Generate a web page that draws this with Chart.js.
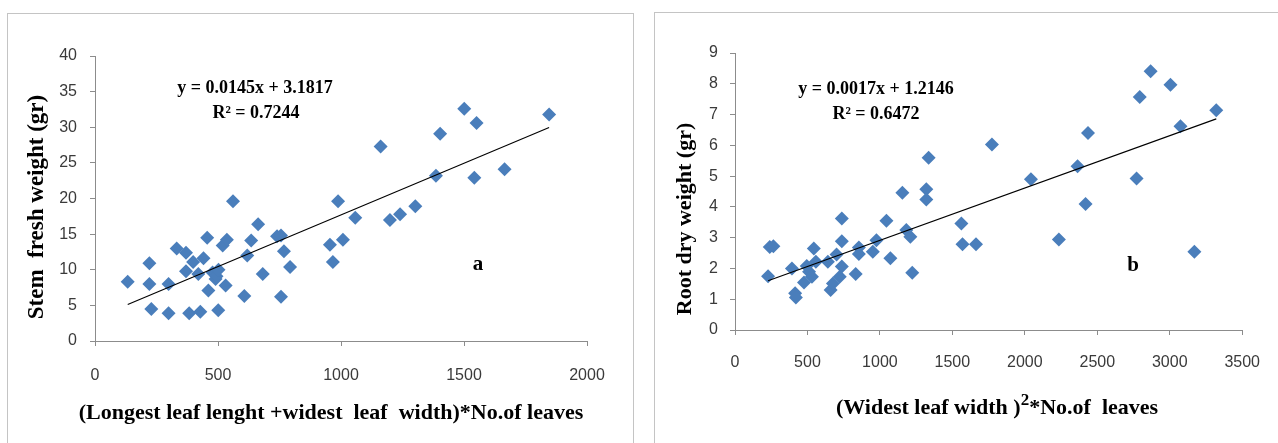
<!DOCTYPE html>
<html>
<head>
<meta charset="utf-8">
<script src="https://cdn.jsdelivr.net/npm/chart.js@4.4.0/dist/chart.umd.min.js"></script>
<style>
  html, body { margin: 0; padding: 0; background: #fff; width: 1278px; height: 443px; overflow: hidden; }
  .panel { position: absolute; border: 1.5px solid #c4c4c4; border-bottom: none; box-sizing: border-box; }
  canvas { position: absolute; top: 0; }
</style>
</head>
<body>
<div class="panel" style="left:7px; top:13px; width:627px; height:440px;"></div>
<div class="panel" style="left:654px; top:12px; width:640px; height:440px;"></div>
<canvas id="chart-a" width="645" height="443" style="left:0"></canvas>
<canvas id="chart-b" width="633" height="443" style="left:645px"></canvas>
<script>
/* panel a: stem fresh weight */
const stemX = [133, 221, 221, 229, 299, 299, 332, 370, 370, 383, 399, 420, 428, 441, 456, 461, 478, 490, 494, 502,
  501, 519, 536, 531, 561, 607, 619, 635, 663, 682, 740, 756, 756, 768, 793, 955, 967, 988, 1008, 1058,
  1161, 1199, 1240, 1302, 1386, 1403, 1501, 1542, 1551, 1665, 1846];
const stemY = [8.3, 10.9, 8.0, 4.5, 3.9, 8.0, 13.0, 12.4, 9.8, 3.9, 11.1, 9.4, 4.1, 11.6, 14.5, 7.1, 9.6, 8.7, 9.1, 10.0,
  4.3, 13.4, 14.2, 7.8, 19.6, 6.3, 12.0, 14.1, 16.4, 9.4, 14.7, 14.8, 6.2, 12.6, 10.4, 13.5, 11.1, 19.6, 14.2, 17.3,
  27.3, 17.0, 17.8, 18.9, 23.2, 29.1, 32.6, 22.9, 30.6, 24.1, 31.8];
const stemTrendX = [133, 1846];
const stemTrendY = [5.11, 29.95];
const stemXTicks = [0, 500, 1000, 1500, 2000];
const stemYTicks = [0, 5, 10, 15, 20, 25, 30, 35, 40];

/* panel b: root dry weight */
const rootX = [228, 240, 265, 393, 415, 420, 476, 495, 511, 531, 544, 558, 641, 660, 676, 701, 723, 737, 737, 737,
  833, 855, 855, 951, 976, 1045, 1072, 1155, 1182, 1210, 1223, 1320, 1320, 1336, 1562, 1570, 1663, 1773, 2042, 2235,
  2364, 2419, 2436, 2771, 2793, 2868, 3005, 3074, 3170, 3321];
const rootY = [1.75, 2.7, 2.72, 2.0, 1.19, 1.06, 1.54, 2.08, 1.89, 1.73, 2.65, 2.22, 2.22, 1.30, 1.51, 2.45, 1.73, 2.06, 2.88, 3.62,
  1.82, 2.68, 2.47, 2.54, 2.92, 3.55, 2.33, 4.46, 3.25, 3.03, 1.86, 4.57, 4.24, 5.6, 3.46, 2.79, 2.79, 6.03, 4.9, 2.94,
  5.32, 4.09, 6.4, 4.92, 7.57, 8.41, 7.97, 6.62, 2.54, 7.14];
const rootTrendX = [228, 3321];
const rootTrendY = [1.60, 6.86];
const rootXTicks = [0, 500, 1000, 1500, 2000, 2500, 3000, 3500];
const rootYTicks = [0, 1, 2, 3, 4, 5, 6, 7, 8, 9];

const MARKER = '#4a7ebb';
const AXIS = '#8c8c8c';
const SERIF = '"Liberation Serif", "Times New Roman", serif';
const SANS = '"Liberation Sans", Arial, sans-serif';

const pairs = (xs, ys) => xs.map((x, i) => ({ x, y: ys[i] }));

/* draws free text (equation, panel letter, axis titles) */
function textPlugin(items) {
  return {
    id: 'texts',
    afterDraw(chart) {
      const ctx = chart.ctx;
      ctx.save();
      ctx.fillStyle = '#000';
      ctx.textBaseline = 'middle';
      items.forEach(it => {
        ctx.save();
        ctx.translate(it.x, it.y);
        if (it.rotate) ctx.rotate(it.rotate);
        const parts = it.parts || [{ t: it.text }];
        const fonts = parts.map(p => `bold ${p.sup ? Math.round(it.size * 0.75) : it.size}px ${SERIF}`);
        let total = 0;
        parts.forEach((p, i) => { ctx.font = fonts[i]; total += ctx.measureText(p.t).width; });
        let cx = -total / 2;
        ctx.textAlign = 'left';
        parts.forEach((p, i) => {
          ctx.font = fonts[i];
          ctx.fillText(p.t, cx, p.sup ? -it.size * 0.35 : 0);
          cx += ctx.measureText(p.t).width;
        });
        ctx.restore();
      });
      ctx.restore();
    },
  };
}

function makeChart(id, cfg) {
  const { pts, trend, xMax, xStep, yMax, yStep, area, size, yPad, xPad, texts } = cfg;
  return new Chart(document.getElementById(id), {
    type: 'scatter',
    data: {
      datasets: [{
        data: pts,
        pointStyle: 'rectRot',
        pointRadius: 7,
        pointHoverRadius: 7,
        backgroundColor: MARKER,
        borderWidth: 0,
        order: 2,
      }, {
        data: trend,
        showLine: true,
        borderColor: '#000',
        borderWidth: 1.1,
        pointRadius: 0,
        fill: false,
        order: 1,
      }],
    },
    options: {
      responsive: false,
      devicePixelRatio: 1,
      animation: false,
      events: [],
      layout: { padding: { left: 0, bottom: 0, top: area.top, right: size.w - area.right } },
      plugins: { legend: { display: false }, tooltip: { enabled: false } },
      scales: {
        x: {
          type: 'linear', min: 0, max: xMax,
          afterFit: s => { s.height = size.h - area.bottom; },
          ticks: { stepSize: xStep, color: '#3a3a3a', padding: xPad, font: { size: 16, family: SANS },
            callback: v => String(v) },
          grid: { drawOnChartArea: false, tickLength: 5, color: AXIS },
          border: { color: AXIS, width: 1 },
        },
        y: {
          type: 'linear', min: 0, max: yMax,
          afterFit: s => { s.width = area.left; },
          ticks: { stepSize: yStep, color: '#3a3a3a', padding: yPad, font: { size: 16, family: SANS },
            callback: v => String(v) },
          grid: { drawOnChartArea: false, tickLength: 5, color: AXIS },
          border: { color: AXIS, width: 1 },
        },
      },
    },
    plugins: [textPlugin(texts)],
  });
}

makeChart('chart-a', {
  pts: pairs(stemX, stemY),
  trend: pairs(stemTrendX, stemTrendY),
  xMax: stemXTicks[stemXTicks.length - 1], xStep: stemXTicks[1] - stemXTicks[0],
  yMax: stemYTicks[stemYTicks.length - 1], yStep: stemYTicks[1] - stemYTicks[0],
  area: { left: 95, top: 56, right: 587, bottom: 341 },
  size: { w: 645, h: 443 },
  yPad: 13, xPad: 20,
  texts: [
    { text: 'y = 0.0145x + 3.1817', x: 255, y: 88, size: 18 },
    { text: 'R² = 0.7244', x: 256, y: 113, size: 18 },
    { text: 'a', x: 478, y: 265, size: 21 },
    { text: 'Stem  fresh weight (gr)', x: 37, y: 207, size: 23, rotate: -Math.PI / 2 },
    { text: '(Longest leaf lenght +widest  leaf  width)*No.of leaves', x: 331, y: 413, size: 22 },
  ],
});

makeChart('chart-b', {
  pts: pairs(rootX, rootY),
  trend: pairs(rootTrendX, rootTrendY),
  xMax: rootXTicks[rootXTicks.length - 1], xStep: rootXTicks[1] - rootXTicks[0],
  yMax: rootYTicks[rootYTicks.length - 1], yStep: rootYTicks[1] - rootYTicks[0],
  area: { left: 90, top: 53, right: 609, bottom: 330 },
  size: { w: 633, h: 443 },
  yPad: 12, xPad: 18,
  texts: [
    { text: 'y = 0.0017x + 1.2146', x: 231, y: 89, size: 18 },
    { text: 'R² = 0.6472', x: 231, y: 114, size: 18 },
    { text: 'b', x: 488, y: 266, size: 21 },
    { text: 'Root dry weight (gr)', x: 40, y: 219, size: 22, rotate: -Math.PI / 2 },
    { x: 352, y: 408, size: 22, parts: [{ t: '(Widest leaf width )' }, { t: '2', sup: true }, { t: '*No.of  leaves' }] },
  ],
});
</script>
</body>
</html>
